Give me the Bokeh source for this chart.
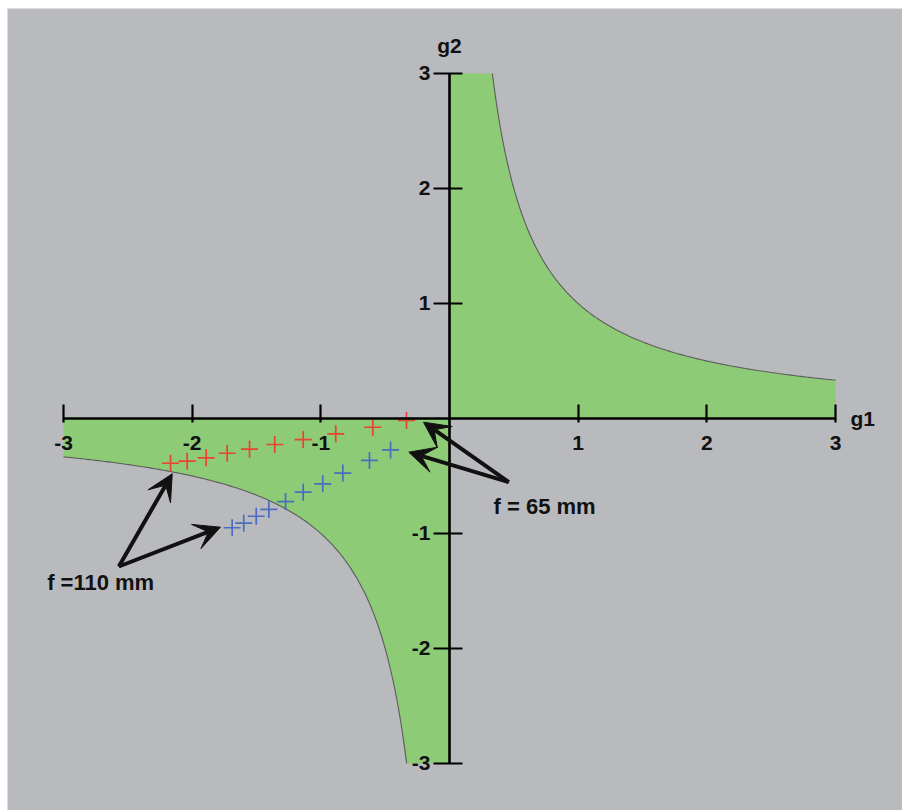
import numpy as np
from bokeh.plotting import figure
from bokeh.models import LinearAxis, FixedTicker, Label, Arrow, VeeHead, Range1d
from bokeh.embed import file_html
from bokeh.resources import INLINE

# Stability diagram: 0 <= g1*g2 <= 1, shown on a +/-3 window
G_LIMIT = 3.0
ticks = [-3, -2, -1, 1, 2, 3]
tick_labels = {t: str(t) for t in ticks}

# Measured resonator configurations (g1, g2)
red_g1 = [-2.168, -2.039, -1.891, -1.728, -1.554, -1.358, -1.137, -0.884, -0.596, -0.334]
red_g2 = [-0.389, -0.371, -0.342, -0.302, -0.267, -0.226, -0.183, -0.133, -0.076, -0.017]
blue_g1 = [-1.689, -1.599, -1.502, -1.404, -1.274, -1.137, -0.985, -0.829, -0.622, -0.458]
blue_g2 = [-0.950, -0.910, -0.850, -0.791, -0.722, -0.641, -0.568, -0.475, -0.365, -0.273]

FONT = "Liberation Sans"
GRAY = "#b9babd"
GREEN = "#8dcb77"
INK = "#111111"

p = figure(width=902, height=810, output_backend="svg", toolbar_location=None,
           x_range=Range1d(-3.4352, 3.5208), y_range=Range1d(-3.4087, 3.5652),
           min_border_left=7, min_border_top=8, min_border_right=0, min_border_bottom=0,
           x_axis_type=None, y_axis_type=None)
p.background_fill_color = GRAY
p.border_fill_color = "white"
p.outline_line_color = None
p.xgrid.visible = False
p.ygrid.visible = False

# Stable region: bounded by the axes and the hyperbola g1*g2 = 1
xc1 = np.linspace(1 / G_LIMIT, G_LIMIT, 200)
xc3 = np.linspace(-G_LIMIT, -1 / G_LIMIT, 200)
q1_x = [0, 0] + list(xc1) + [G_LIMIT]
q1_y = [0, G_LIMIT] + list(1 / xc1) + [0]
q3_x = [0, -G_LIMIT] + list(xc3) + [0]
q3_y = [0, 0] + list(1 / xc3) + [-G_LIMIT]
p.patches([q1_x, q3_x], [q1_y, q3_y], fill_color=GREEN, line_color=None)
p.multi_line([list(xc1), list(xc3)], [list(1 / xc1), list(1 / xc3)],
             line_color="#5c5c5c", line_width=1.1)

# Axes crossing at the origin
xaxis = LinearAxis(fixed_location=0, ticker=FixedTicker(ticks=ticks), bounds=(-3, 3))
xaxis.major_tick_in = 14
xaxis.major_tick_out = 4
xaxis.major_label_standoff = 14
yaxis = LinearAxis(fixed_location=0, ticker=FixedTicker(ticks=ticks), bounds=(-3, 3))
yaxis.major_tick_in = 13
yaxis.major_tick_out = 16
yaxis.major_label_standoff = 3
for ax in (xaxis, yaxis):
    ax.major_label_overrides = tick_labels
    ax.axis_line_width = 2.6
    ax.axis_line_color = "black"
    ax.major_tick_line_width = 2.2
    ax.major_tick_line_color = "black"
    ax.minor_tick_line_color = None
    ax.major_label_text_font = FONT
    ax.major_label_text_font_style = "bold"
    ax.major_label_text_font_size = "21px"
    ax.major_label_text_color = INK
p.add_layout(xaxis, "below")
p.add_layout(yaxis, "left")

p.add_layout(Label(x=3.117, y=0.0, text="g1", text_font=FONT, text_font_style="bold",
                   text_font_size="21px", text_color=INK, text_align="left",
                   text_baseline="alphabetic"))
p.add_layout(Label(x=0, y=3.245, text="g2", text_font=FONT, text_font_style="bold",
                   text_font_size="21px", text_color=INK, text_align="center",
                   text_baseline="alphabetic"))

# Resonator series
p.scatter(red_g1, red_g2, marker="cross", size=17, line_width=1.7, line_color="#e8442e")
p.scatter(blue_g1, blue_g2, marker="cross", size=17, line_width=1.7, line_color="#4b6cc1")

# Callouts
arrows = [
    (0.461, -0.554, -0.202, -0.032),
    (0.461, -0.554, -0.316, -0.293),
    (-2.570, -1.287, -2.155, -0.481),
    (-2.570, -1.287, -1.780, -0.945),
]
for xs, ys, xe, ye in arrows:
    p.add_layout(Arrow(x_start=xs, y_start=ys, x_end=xe, y_end=ye, line_width=4,
                       line_color=INK,
                       end=VeeHead(size=26, fill_color=INK, line_color=INK)))

p.add_layout(Label(x=0.342, y=-0.765, text="f = 65 mm", text_font=FONT, text_font_style="bold",
                   text_font_size="22px", text_color=INK, text_baseline="alphabetic"))
p.add_layout(Label(x=-3.127, y=-1.426, text="f =110 mm", text_font=FONT, text_font_style="bold",
                   text_font_size="22px", text_color=INK, text_baseline="alphabetic"))

open("out.html", "w").write(file_html(p, INLINE))
